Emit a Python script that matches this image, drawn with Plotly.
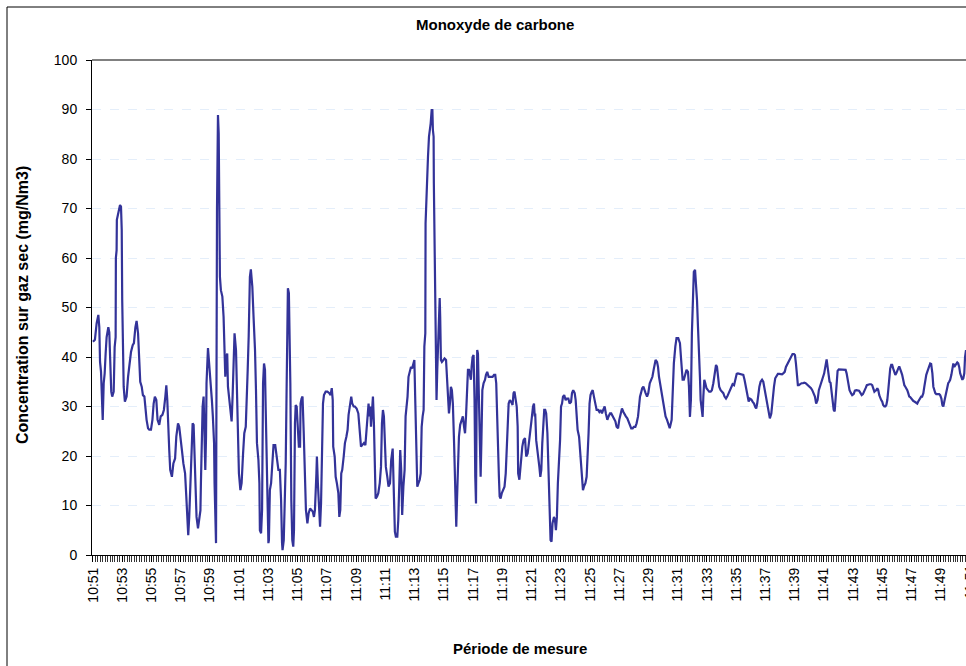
import pandas as pd
import plotly.graph_objects as go

# ---------------- data ----------------
START = "2000-01-01 10:51:00"
TITLE = "Monoxyde de carbone"
Y_TITLE = "Concentration sur gaz sec (mg/Nm3)"
X_TITLE = "Période de mesure"

# seconds after 10:51:00
t_sec = [
    0, 8, 15, 22, 26, 29, 33, 36, 40, 44, 48, 52, 56, 63, 67, 71, 75, 79, 85, 89,
    93, 94, 97, 98, 105, 111, 115, 118, 120, 123, 126, 131, 138, 144, 149, 156, 163, 168, 174, 179,
    185, 189, 194, 200, 205, 211, 215, 220, 226, 231, 238, 244, 249, 254, 260, 265, 272, 278, 285, 291,
    297, 301, 305, 308, 313, 317, 324, 330, 337, 342, 349, 354, 360, 365, 371, 378, 383, 387, 391, 395,
    401, 405, 409, 413, 417, 421, 425, 431, 436, 441, 443, 446, 450, 454, 457, 461, 464, 466, 472, 476,
    483, 488, 492, 497, 499, 502, 505, 509, 511, 513, 516, 518, 521, 525, 531, 536, 539, 543, 547, 551,
    554, 560, 565, 569, 573, 577, 581,
    587, 590, 594, 599, 605, 610, 616, 621, 627, 631, 635, 639, 642, 644, 648, 654, 659, 665, 669, 673,
    679, 683, 685, 690, 694, 698, 702, 706, 709, 713, 717, 720, 722, 726, 731, 736, 741, 748, 754, 761,
    767, 772, 776, 778, 783, 787, 791, 795, 798, 800, 804, 807, 810, 814, 818, 822, 825, 829, 832, 836,
    840, 845, 850, 852, 856, 860, 865, 870, 874, 880, 885, 891, 896, 902, 907, 911, 917, 919, 923, 929,
    932, 936, 940, 944, 948, 955, 962, 970, 975, 980, 984, 986, 992, 996, 1001, 1007, 1011, 1015, 1019, 1023,
    1029, 1034, 1040, 1045, 1049, 1055, 1060, 1064, 1070, 1075, 1082, 1089, 1094, 1100, 1105, 1112, 1118, 1123, 1127, 1131,
    1135, 1138, 1141, 1145, 1149, 1153, 1156, 1160, 1166, 1171, 1177,
    1182, 1186, 1190, 1194, 1198, 1202, 1208, 1213, 1219, 1224, 1230, 1232, 1235, 1239, 1243, 1249, 1253, 1257, 1261, 1265,
    1269, 1274, 1279, 1283, 1287, 1291, 1295, 1300, 1305, 1310, 1315, 1319, 1323, 1327, 1331, 1336, 1341, 1345, 1349, 1353,
    1357, 1360, 1364, 1365, 1368, 1371, 1375, 1379, 1383, 1386, 1390, 1393, 1395, 1398, 1399, 1402, 1405, 1408, 1410, 1413,
    1416, 1420, 1423, 1425, 1428, 1432, 1438, 1443, 1449, 1453, 1457, 1461, 1465, 1469, 1473, 1477, 1482, 1486, 1488, 1491,
    1494, 1498, 1502, 1507, 1513, 1518, 1523, 1527, 1531, 1535, 1539, 1543, 1547, 1551, 1554, 1558, 1562, 1566, 1569, 1572,
    1574, 1577, 1580, 1583, 1587, 1591, 1594, 1598, 1603, 1609, 1613, 1618, 1624, 1629, 1635, 1640, 1646, 1651, 1655, 1659,
    1663, 1666, 1669, 1673, 1678, 1684, 1689, 1694, 1698, 1702, 1706, 1711, 1717, 1722, 1726, 1730, 1735, 1739, 1743, 1745,
    1750, 1754, 1758, 1762, 1767, 1773,
    1778, 1784, 1789, 1795, 1800, 1806, 1810, 1813, 1815, 1819, 1824, 1828, 1832, 1836, 1840, 1844, 1848, 1852, 1856, 1860,
    1865, 1869, 1871, 1874, 1878, 1882, 1886, 1892, 1896, 1900, 1904, 1908, 1912, 1917, 1921, 1925, 1929, 1934, 1940, 1945,
    1951, 1956, 1962, 1966, 1971, 1977, 1981, 1985, 1989, 1995, 1999, 2003, 2007, 2011, 2015, 2021, 2026, 2030, 2034, 2038,
    2042, 2047, 2051, 2056, 2062, 2067, 2073, 2078, 2083, 2089, 2094, 2100, 2105, 2111, 2116, 2122, 2127, 2133, 2138, 2144,
    2149, 2155, 2160, 2166, 2171, 2177, 2182, 2187, 2193, 2198, 2204, 2209, 2215, 2220, 2226, 2231, 2237, 2241, 2245, 2249,
    2254, 2259, 2263, 2268, 2274, 2279, 2285, 2290, 2296, 2301, 2305, 2309, 2315, 2319, 2323, 2327, 2331, 2335, 2339, 2345,
    2350, 2356, 2361, 2367,
    2375, 2380, 2384, 2390, 2395, 2402, 2409, 2414, 2420, 2425, 2431, 2436, 2442, 2446, 2450, 2454, 2458, 2462, 2466, 2471,
    2475, 2479, 2483, 2487, 2491, 2494, 2498, 2502, 2505, 2509, 2513, 2518, 2524, 2529, 2535, 2540, 2546, 2551, 2557, 2561,
    2565, 2570, 2576, 2581, 2587, 2592, 2598, 2603, 2609, 2614, 2620, 2625, 2631, 2636, 2642, 2647, 2653, 2658, 2664, 2669,
    2674, 2679, 2683, 2687, 2691, 2696, 2702, 2707, 2713, 2718, 2722, 2726, 2731, 2735, 2740, 2746, 2751, 2757, 2762, 2768,
    2773, 2778, 2784, 2789, 2795, 2800, 2806, 2811, 2817, 2822, 2828, 2833, 2839, 2844, 2850, 2855, 2861, 2866, 2871, 2877,
    2881, 2885, 2889, 2893, 2897, 2903, 2908, 2914, 2919, 2925, 2930, 2936, 2941, 2947, 2952, 2958, 2963,
    2968, 2974, 2979, 2985, 2990, 2996, 3001, 3007, 3011, 3015, 3019, 3023, 3027, 3031, 3036, 3040, 3044, 3048, 3052, 3056,
    3061, 3067, 3072, 3078, 3083, 3089, 3093, 3097, 3101, 3105, 3111, 3116, 3122, 3127, 3133, 3138, 3144, 3149, 3155, 3160,
    3166, 3171, 3176, 3182, 3187, 3193, 3198, 3202, 3207, 3211, 3215, 3219, 3223, 3227, 3231, 3235, 3239, 3243, 3248, 3252,
    3256, 3260, 3264, 3268, 3272, 3276, 3280, 3284, 3289, 3293, 3297, 3301, 3305, 3309, 3313, 3317, 3321, 3326, 3330, 3334,
    3338, 3342, 3346, 3350, 3354, 3358, 3362, 3367, 3371, 3375, 3379, 3383, 3387, 3391, 3395, 3399, 3403, 3408, 3412, 3416,
    3420, 3424, 3428, 3432, 3436, 3440, 3445, 3449, 3453, 3457, 3461, 3465, 3469, 3473, 3477, 3482, 3486, 3490, 3494, 3498,
    3502, 3506, 3510, 3514, 3518, 3523, 3527, 3531, 3535, 3539, 3543, 3547, 3551, 3555, 3559, 3564, 3568, 3572, 3576, 3579,
    3583,
]

co_mg = [
    43.1, 43.5, 46.8, 48.5, 46, 39, 37, 30.6, 27.3, 34.7, 36.7, 40.7, 44, 46, 45, 39, 33, 32, 33, 42,
    44, 60, 61.6, 67.7, 69.7, 70.7, 70.4, 65.7, 51.5, 39.4, 34, 31, 32, 36, 38, 41, 42.4, 42.8, 46, 47.3,
    44.8, 38.7, 35, 34, 32.3, 32, 29.3, 27.3, 25.6, 25.3, 25.3, 27.3, 30.6, 32, 31.3, 27.3, 26.3, 28, 28.3, 29.3,
    32, 34.3, 31.3, 25.3, 21.2, 17.2, 15.8, 18.5, 19.5, 23.9, 26.6, 25.9, 23.9, 21.2, 18.5, 16.5, 11.8, 6.4, 4, 7.7,
    15.8, 21.2, 26.6, 26.3, 21.2, 14.5, 7.7, 5.4, 7.7, 9, 14.5, 23.9, 30, 32, 26.6, 17.2, 23.9, 34.7, 41.8, 39.4,
    35.4, 31.3, 28, 22.6, 14.5, 2.4, 2.4, 70, 88.6, 88.9, 85.2, 64.3, 56.2, 53.5, 52.2, 48.1, 40, 36, 40, 40.7,
    34, 30.6, 28, 27, 32, 41.4, 44.8,
    41.4, 33.3, 23.9, 16.5, 13.1, 14.5, 20.5, 24.6, 25.9, 34.7, 37.4, 44.1, 51.5, 56.2, 57.7, 54.2, 48.1, 41.4, 33.3, 22.6,
    19.2, 14.5, 5, 4.4, 9.1, 34.7, 38.7, 37.4, 29.3, 15.8, 7.7, 2.4, 3, 13.1, 14.5, 18.5, 22.2, 22.2, 19.9, 17.2,
    17.2, 11.1, 2.4, 1, 3, 11.1, 18.5, 34.7, 47.5, 53.9, 52.9, 46.1, 34.7, 11.1, 3, 1.7, 5, 26.6, 30.3, 30,
    26.6, 21.9, 21.9, 30.6, 31.6, 32, 24.6, 15.8, 9.1, 6.4, 8.4, 9.4, 9.1, 8.8, 7.7, 9.1, 16.5, 19.9, 14.5, 8.4,
    5.7, 10.4, 24.6, 30.6, 32.3, 33, 33, 32.7, 32.3, 33.7, 31.3, 21.9, 19.9, 15.8, 14.5, 12.5, 7.7, 9.1, 16.5, 17.2,
    19.9, 22.6, 23.9, 25.3, 28.3, 30, 32, 30.6, 30, 30, 29.6, 28.6, 25.3, 21.9, 22.2, 22.6, 22.2, 25.3, 29.3, 30.6,
    28, 30, 25.9, 30.6, 32, 26.6, 15.8, 11.4, 11.8, 12.5, 14.5,
    17.8, 26.6, 29.3, 28, 23.9, 17.8, 15.8, 13.8, 14.5, 19.2, 21.5, 17.2, 7.7, 4.7, 3.7, 3.7, 7.1, 14.5, 21.2, 17.2,
    8.1, 13.8, 17.2, 28, 30, 32, 36, 37.4, 38, 37.7, 39, 39.4, 30.6, 18.5, 13.8, 14.5, 15.2, 16.5, 25.9, 28,
    29.3, 42.1, 44.8, 67, 71.7, 78.5, 80.5, 84.5, 85.9, 87.2, 89.9, 89.9, 85.9, 84.5, 75.1, 61.6, 48.1, 36.7, 31.3, 37.4,
    42.8, 49.5, 51.9, 48.1, 39.4, 39, 39.4, 39.7, 39.4, 35.4, 30, 28.6, 30.6, 34, 33.3, 30.6, 22.6, 14.5, 8.4, 5.7,
    11.1, 17.8, 23.9, 26.3, 27.3, 28, 25.9, 24.6, 28, 35.4, 37.4, 37.4, 36, 35.4, 38, 40, 40.4, 31.3, 15.8, 10.4,
    26.6, 41.4, 40.7, 31.3, 21.2, 15.8, 22.6, 33.3, 34.7, 35.4, 36.4, 37, 36, 36, 36, 36, 36.4, 36.4, 34.7, 25.9,
    21.2, 15.8, 11.8, 11.4, 12.5, 13.1, 13.8, 16.5, 22.6, 28.6, 30.6, 31.3, 30.9, 30.3, 32.7, 33, 31.3, 30, 25.9, 16.5,
    15.2, 17.8, 20.5, 21.9, 23.2, 23.6,
    19.9, 20.5, 22.6, 25.9, 27.3, 30, 30.6, 28, 28.6, 23.2, 21.2, 20.5, 17.8, 15.8, 17.2, 22.6, 26.6, 29.3, 29.3, 28.6,
    24.6, 17.8, 13.1, 7.7, 3, 2.7, 6.4, 7.7, 7.1, 5, 7.7, 14.5, 17.8, 23.2, 30, 30.6, 32, 32.3, 31.3, 31.6,
    31.6, 30.6, 30.9, 32.7, 33.3, 32.7, 31.3, 28, 25.3, 23.9, 21.2, 17.2, 13.8, 13.1, 13.8, 14.5, 15.8, 19.2, 24.6, 30.6,
    32.3, 33, 33.3, 32, 30.6, 29.3, 29.3, 28.9, 29.3, 28.6, 29.3, 30, 28.6, 27.3, 28, 28.6, 28.6, 28, 27.3, 27,
    25.9, 25.6, 27.3, 28.6, 29.6, 28.9, 28.3, 28, 27.6, 27, 26.3, 25.6, 25.6, 25.9, 25.9, 26.6, 28, 30.6, 32, 32.7,
    33.7, 34, 33.3, 32.7, 32, 32.7, 34.7, 35.4, 36, 37.4, 38.7, 39.4, 39, 38, 36, 34.7, 33.3, 32, 30.6, 29.3,
    28, 27.3, 26.6, 25.6,
    27.3, 34, 38.7, 42.1, 43.8, 43.8, 42.8, 39.4, 35.4, 35.4, 36.7, 37.4, 37, 34, 27.9, 31.3, 44.8, 54.2, 57.2, 57.6,
    54.9, 51.5, 46.1, 42.1, 36, 31.3, 28.6, 27.9, 32, 35.4, 34.7, 33.7, 33.3, 33, 33, 33.3, 34.7, 36.7, 38.4, 38,
    36, 34, 33.3, 33, 32.7, 32, 31.6, 32, 32.7, 33.3, 34, 34.5, 34.3, 35.4, 36.6, 36.7, 36.6, 36.6, 36.4, 36.4,
    35.4, 34, 32.7, 31.3, 31, 31.6, 31.4, 31, 30.6, 29.9, 29.6, 30.6, 32.7, 34, 35, 35.4, 35, 33.3, 31.3, 29.9,
    28.3, 27.6, 28.6, 32, 34, 35.7, 36.4, 36.6, 36.6, 36.6, 36.5, 36.7, 37, 38, 38.6, 39.1, 39.7, 40.2, 40.6, 40.6,
    40.4, 38.7, 36.7, 34.3, 34.3, 34.5, 34.7, 34.7, 34.8, 34.7, 34.5, 34.3, 34, 33.7, 33.3, 32.7, 32,
    30.6, 31.3, 33.3, 34.3, 35, 35.7, 36.7, 38.4, 39.5, 38, 36.7, 35, 34.8, 33.3, 31.3, 29.3, 29, 32, 36, 37.2,
    37.5, 37.5, 37.5, 37.5, 37.5, 37.4, 36.7, 35.4, 34.3, 33.3, 32.7, 32.3, 32.5, 33.2, 33.3, 33.3, 33.2, 32.8, 32.3, 32.5,
    33, 33.7, 34.3, 34.5, 34.5, 34.5, 34.3, 33.7, 33, 33.2, 33.3, 33.7, 33.3, 32.3, 31.6, 31.3, 31, 30.3, 30, 30,
    30.3, 31.3, 33.3, 36, 37.7, 38.4, 38.4, 37.7, 37, 36.4, 36.7, 37.4, 37.7, 38.1, 37.7, 37, 36.4, 35, 34.3, 34,
    33.7, 33.3, 32.7, 32, 31.9, 31.6, 31.3, 31.1, 31, 30.8, 30.6, 30.6, 31, 31.3, 31.6, 32, 32, 32.7, 34, 35.4,
    36.4, 37, 37.7, 38.4, 38.7, 38.6, 36.7, 34, 33, 32.7, 32.5, 32.5, 32.5, 32.5, 32.3, 31.6, 30.3, 30, 31, 32,
    33, 34, 34.7, 35, 35.4, 36.4, 38, 38.7, 38, 38.4, 38.7, 38.9, 38.7, 38, 36.7, 35.7, 35.4, 35.7, 36.7, 40,
    41.4,
]

y_ticks = [0, 10, 20, 30, 40, 50, 60, 70, 80, 90, 100]
X_END_SEC = 3583

# ---------------- figure ----------------
start = pd.Timestamp(START)
times = [start + pd.Timedelta(seconds=s) for s in t_sec]

FONT = "Arial, Liberation Sans, sans-serif"

fig = go.Figure(
    go.Scatter(
        x=times,
        y=co_mg,
        mode="lines",
        line=dict(color="#333399", width=2.2),
        hoverinfo="x+y",
    )
)

W, H = 966, 666
L, R, T, B = 92, 0, 60, 111
pw, ph = W - L - R, H - T - B


def px_x(x):
    return (x - L) / pw


def px_y(y):
    return (H - B - y) / ph


fig.update_layout(
    width=W,
    height=H,
    margin=dict(l=L, r=R, t=T, b=B),
    paper_bgcolor="white",
    plot_bgcolor="white",
    showlegend=False,
    font=dict(family=FONT, size=14, color="black"),
    xaxis=dict(
        type="date",
        range=[start - pd.Timedelta(seconds=4), start + pd.Timedelta(seconds=X_END_SEC)],
        tick0=START,
        dtick=120000,
        tickformat="%H:%M",
        tickangle=-90,
        ticks="outside",
        ticklen=6,
        tickcolor="black",
        showline=True,
        linecolor="black",
        linewidth=1,
        showgrid=False,
        zeroline=False,
        tickfont=dict(family=FONT, size=14, color="black"),
        minor=dict(dtick=10000, tick0=START, ticks="outside", ticklen=6,
                   tickcolor="#333333", showgrid=False),
        fixedrange=True,
    ),
    yaxis=dict(
        range=[0, 100],
        tickvals=y_ticks,
        ticks="outside",
        ticklen=5,
        tickcolor="black",
        showline=True,
        linecolor="black",
        linewidth=1,
        showgrid=True,
        gridcolor="#e4eefa",
        griddash="dash",
        gridwidth=1,
        zeroline=False,
        ticklabelstandoff=6,
        tickfont=dict(family=FONT, size=14, color="black"),
        fixedrange=True,
    ),
)

shapes = [
    # plot-area top border
    dict(type="line", xref="paper", yref="paper", x0=0, x1=1, y0=1, y1=1,
         line=dict(color="#808080", width=2)),
    # chart outer frame
    dict(type="rect", xref="paper", yref="paper",
         x0=px_x(7), x1=px_x(1100), y0=px_y(800), y1=px_y(7),
         line=dict(color="black", width=1), fillcolor="rgba(0,0,0,0)"),
]
fig.update_layout(shapes=shapes)

annotations = [
    dict(text="<b>" + TITLE + "</b>", xref="paper", yref="paper",
         x=px_x(495), y=px_y(25), showarrow=False,
         font=dict(family=FONT, size=15, color="black"),
         xanchor="center", yanchor="middle"),
    dict(text="<b>" + X_TITLE + "</b>", xref="paper", yref="paper",
         x=px_x(520), y=px_y(648), showarrow=False,
         font=dict(family=FONT, size=15, color="black"),
         xanchor="center", yanchor="middle"),
    dict(text="<b>" + Y_TITLE + "</b>", xref="paper", yref="paper",
         x=px_x(22), y=px_y(305), showarrow=False, textangle=-90,
         font=dict(family=FONT, size=16, color="black"),
         xanchor="center", yanchor="middle"),
    # partially visible last tick label (cut by the window edge)
    dict(text="11:51", xref="paper", yref="paper",
         x=px_x(970), y=px_y(582), showarrow=False, textangle=-90,
         font=dict(family=FONT, size=14, color="black"),
         xanchor="center", yanchor="middle"),
]
fig.update_layout(annotations=annotations)

fig.write_html(
    "out.html",
    config={"displayModeBar": False},
    post_script="document.body.style.margin='0';document.body.style.overflow='hidden';",
)
